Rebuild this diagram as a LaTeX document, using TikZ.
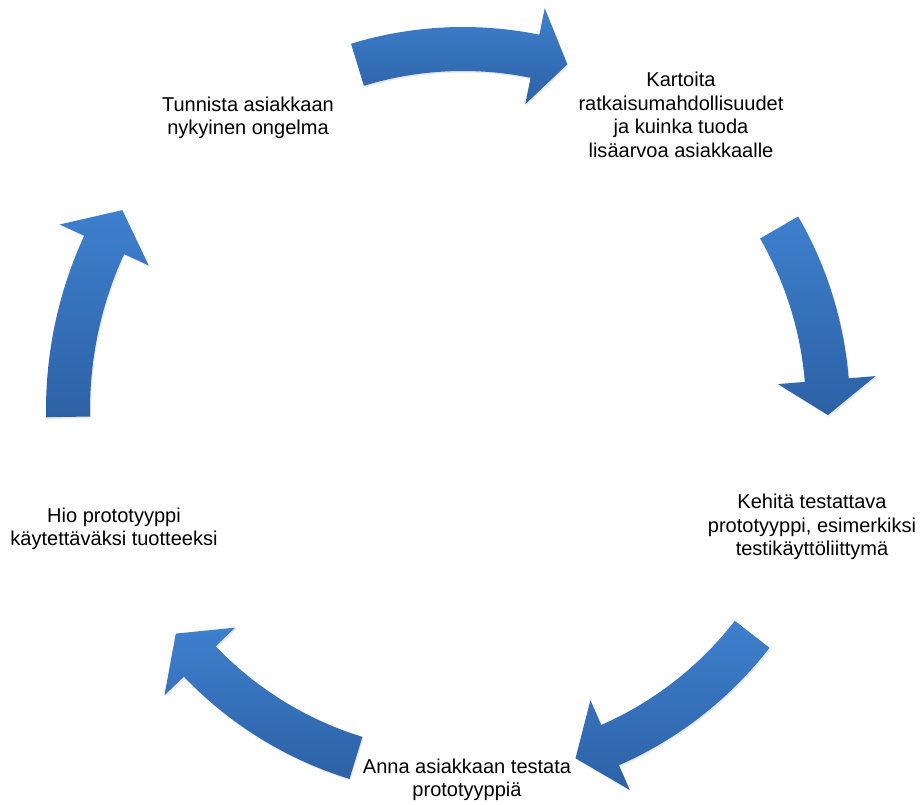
\documentclass[tikz,border=0pt]{standalone}
\usepackage{fontspec}
\setmainfont{Liberation Sans}
\usetikzlibrary{shadows}
\definecolor{cyclelight}{RGB}{62,128,206}
\definecolor{cycledark}{RGB}{45,97,165}

% curved block arrow: #1 tail angle, #2 head base angle, #3 tip angle, #4 radius
\newcommand{\cyclearrow}[4]{%
  \path[blockarrow] (#1:#4+22) arc[start angle=#1, end angle=#2, radius=#4+22]
    -- (#2:#4+49) -- (#3:#4) -- (#2:#4-49) -- (#2:#4-22)
    arc[start angle=#2, end angle=#1, radius=#4-22] -- cycle;}

\begin{document}
\begin{tikzpicture}[
  x=0.02cm, y=0.02cm,
  step text/.style={
    align=center, inner sep=0pt,
    font=\fontsize{11.4}{13.4}\selectfont
  },
  blockarrow/.style={
    top color=cyclelight, bottom color=cycledark,
    drop shadow={shadow xshift=0.6pt, shadow yshift=-0.9pt, opacity=0.18}
  }
]
  \useasboundingbox (0,0) rectangle (920,805);

  % arrows round the cycle
  \begin{scope}[shift={(463,395)}]
    \cyclearrow{107.0}{78.5}{73.2}{361}
    \cyclearrow{30.0}{4.7}{-0.8}{365}
    \cyclearrow{-37.8}{-66.3}{-72.1}{366}
    \cyclearrow{-107.1}{-136.3}{-142.1}{364}
    \cyclearrow{181.0}{155.3}{149.6}{395}
  \end{scope}

  \node[step text] (tunnista) at (248,687) {Tunnista asiakkaan\\nykyinen ongelma};
  \node[step text] (kartoita) at (681,690) {Kartoita\\ratkaisumahdollisuudet\\ja kuinka tuoda\\lisäarvoa asiakkaalle};
  \node[step text] (kehita) at (812,278) {Kehitä testattava\\prototyyppi, esimerkiksi\\testikäyttöliittymä};
  \node[step text] (anna) at (467,25) {Anna asiakkaan testata\\prototyyppiä};
  \node[step text] (hio) at (114,276) {Hio prototyyppi\\käytettäväksi tuotteeksi};
\end{tikzpicture}
\end{document}
